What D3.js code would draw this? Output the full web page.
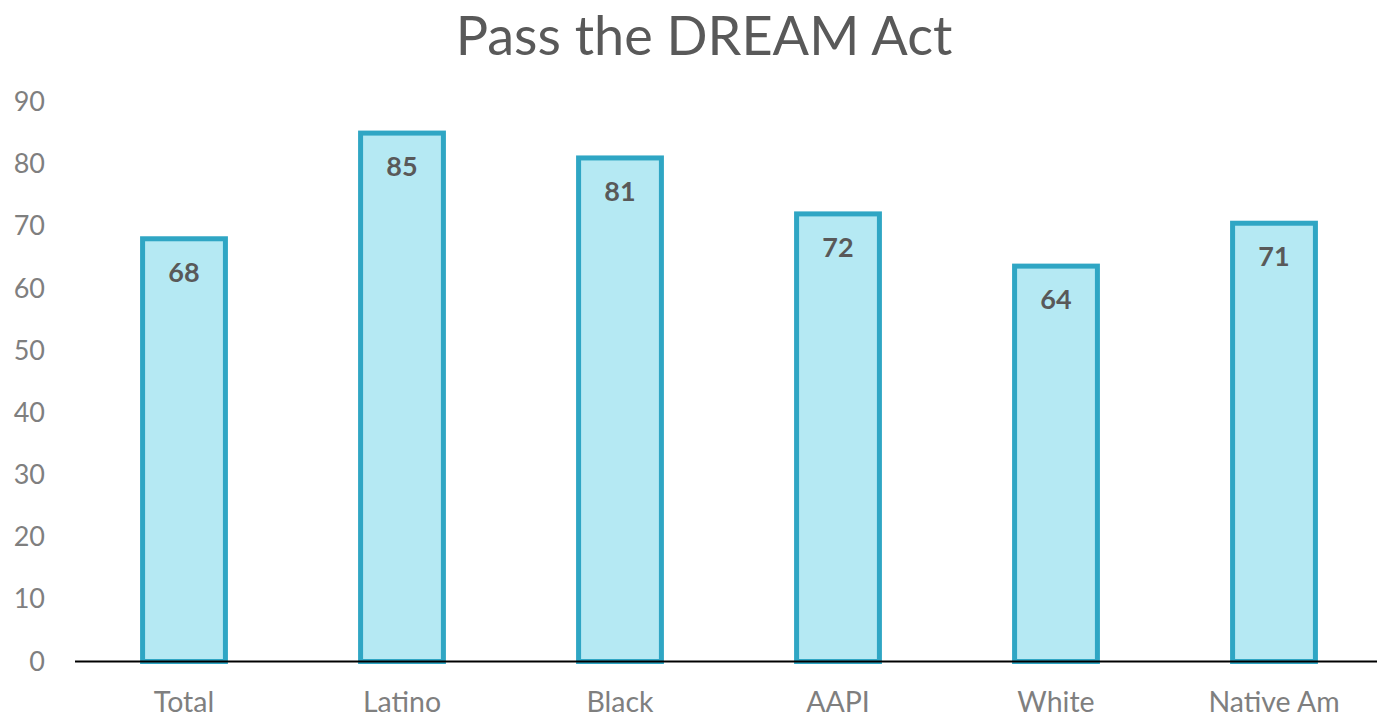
<!DOCTYPE html>
<html><head><meta charset="utf-8">
<script src="https://cdn.jsdelivr.net/npm/d3@7"></script>
<style>body{margin:0;background:#fff}svg{display:block}</style>
</head><body>
<svg id="c" width="1377" height="718"></svg>
<script>
const categories = ["Total", "Latino", "Black", "AAPI", "White", "Native Am"];
const values = [68, 85, 81, 72, 63.6, 70.5];
const yTicks = [0, 10, 20, 30, 40, 50, 60, 70, 80, 90];
const title = "Pass the DREAM Act";

const svg = d3.select("#c");
const FONT = "Lato, 'Open Sans', sans-serif";
const x = d3.scaleBand().domain(categories).range([75, 1383]).paddingInner(0.62).paddingOuter(0.31);
const y = d3.scaleLinear().domain([0, 90]).range([661.5, 102]);

svg.append("text").attr("x", 704).attr("y", 55).attr("text-anchor", "middle")
  .attr("font-family", FONT).attr("font-size", 54).attr("fill", "#595959").text(title);

// y axis labels
const ya = svg.append("g").attr("transform", "translate(45,0)")
  .call(d3.axisLeft(y).tickValues(yTicks).tickSize(0).tickPadding(0));
ya.select(".domain").remove();
ya.selectAll("text").attr("font-family", FONT).attr("font-size", 27).attr("fill", "#7f7f7f");

// bars
svg.append("g").selectAll("rect").data(values).join("rect")
  .attr("x", (d, i) => x(categories[i]))
  .attr("y", d => y(d))
  .attr("width", x.bandwidth())
  .attr("height", d => y(0) - y(d))
  .attr("fill", "#B5E9F3").attr("stroke", "#2FA6C4").attr("stroke-width", 5);

// value labels
svg.append("g").selectAll("text").data(values).join("text")
  .attr("x", (d, i) => x(categories[i]) + x.bandwidth() / 2)
  .attr("y", d => y(d) + 43)
  .attr("text-anchor", "middle").attr("font-family", FONT).attr("font-weight", "bold")
  .attr("font-size", 27).attr("fill", "#595959")
  .text(d => Math.round(d));

// x axis
const xa = svg.append("g").attr("transform", `translate(0,${y(0)})`)
  .call(d3.axisBottom(x).tickSize(0).tickPadding(30));
xa.select(".domain").attr("stroke", "#000").attr("stroke-width", 2).attr("d", "M75,0H1377");
xa.selectAll("text").attr("font-family", FONT).attr("font-size", 28.5).attr("fill", "#7f7f7f");
</script>
</body></html>
